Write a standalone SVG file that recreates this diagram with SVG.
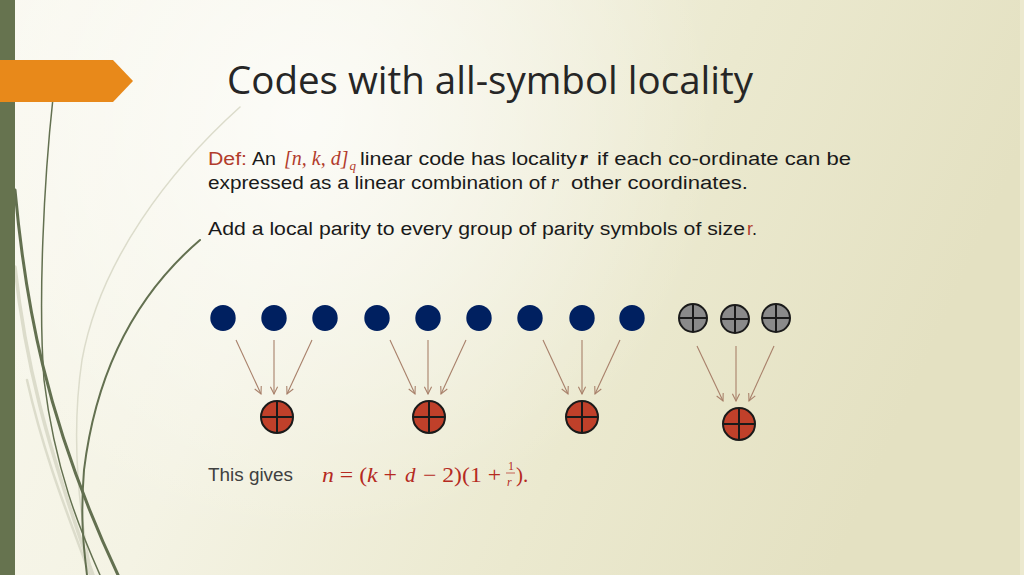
<svg xmlns="http://www.w3.org/2000/svg" width="1024" height="575" viewBox="0 0 1024 575">
<defs>
<linearGradient id="bg" x1="0" y1="0" x2="1" y2="0.25">
<stop offset="0" stop-color="#f9f8ef"/>
<stop offset="0.35" stop-color="#f4f3e4"/>
<stop offset="0.7" stop-color="#ebe9cf"/>
<stop offset="1" stop-color="#e4e1c2"/>
</linearGradient>
<radialGradient id="glow" cx="300" cy="120" r="420" gradientUnits="userSpaceOnUse">
<stop offset="0" stop-color="#ffffff" stop-opacity="0.7"/>
<stop offset="1" stop-color="#ffffff" stop-opacity="0"/>
</radialGradient>
<marker id="ah" viewBox="0 0 10 10" refX="9" refY="5" markerWidth="9" markerHeight="9" markerUnits="userSpaceOnUse" orient="auto">
<path d="M1,1 L9,5 L1,9" fill="none" stroke="#a8806a" stroke-width="1.2"/>
</marker>
</defs>
<style>
.t{font-family:"Liberation Sans","DejaVu Sans",sans-serif;font-size:18px;fill:#1a1a1a}
.red{fill:#b23c2c}
.m{font-family:"Liberation Serif","DejaVu Serif",serif;font-style:italic;font-size:20px}
.blue{fill:#002060}
.grey{fill:#8a8a8a;stroke:#1a1a1a;stroke-width:2}
.par{fill:#c0402a;stroke:#1a1a1a;stroke-width:2}
.x{stroke:#1a1a1a;stroke-width:2}
.arr{stroke:#a8806a;stroke-width:1.1;fill:none;marker-end:url(#ah)}
.stem{fill:none;stroke:#637050;stroke-linecap:round}
.pale{fill:none;stroke:#dcdccb;stroke-linecap:round}
.f{font-family:"Liberation Serif","DejaVu Serif",serif;font-size:21px;fill:#b52a1f}
.s{font-family:"Liberation Serif","DejaVu Serif",serif;font-size:12px;fill:#b52a1f}
</style>
<rect width="1024" height="575" fill="url(#bg)"/>
<rect width="1024" height="575" fill="url(#glow)"/>
<rect x="1020" y="0" width="4" height="575" fill="#ece9cf"/>
<g id="decor">
<path class="pale" stroke-width="1.5" d="M240,107 C170,170 100,260 82,360 C70,440 80,520 92,575"/>
<path class="pale" stroke-width="3.5" d="M15,267 C25,360 45,440 93,575"/>
<path class="pale" stroke-width="2.5" d="M27,380 C45,460 70,520 90,575"/>
<path class="stem" stroke-width="1.5" d="M53,98 C44,180 38,300 44,380 C55,470 80,530 100,575"/>
<path class="stem" stroke-width="3" d="M15,190 C25,300 45,420 118,575"/>
<path class="stem" stroke-width="2" d="M200,240 C130,300 95,380 84,470 C80,520 84,550 87,575"/>
<rect x="0" y="0" width="15" height="575" fill="#66734f"/>
<polygon points="0,60 113,60 133,81 113,102 0,102" fill="#e8891a"/>
</g>
<g id="title">
<text x="227" y="94" font-family="'Open Sans','Noto Sans',sans-serif" font-size="38" fill="#262626" textLength="526" lengthAdjust="spacingAndGlyphs">Codes with all-symbol locality</text>
</g>
<g id="definition">
<text class="t red" x="208" y="165" textLength="39" lengthAdjust="spacingAndGlyphs">Def:</text>
<text class="t" x="252" y="165" textLength="24" lengthAdjust="spacingAndGlyphs">An</text>
<text class="t red m" x="284" y="165">[n, k, d]<tspan style="font-size:13px" dx="1" dy="5">q</tspan></text>
<text class="t m" x="580" y="165" font-weight="bold">r</text>
<text class="t" x="360" y="165" textLength="217" lengthAdjust="spacingAndGlyphs">linear code has locality</text>
<text class="t" x="597" y="165" textLength="254" lengthAdjust="spacingAndGlyphs">if each co-ordinate can be</text>
<text class="t" x="208" y="189" textLength="338" lengthAdjust="spacingAndGlyphs">expressed as a linear combination of</text>
<text class="t m" x="551" y="189">r</text>
<text class="t" x="571" y="189" textLength="177" lengthAdjust="spacingAndGlyphs">other  coordinates.</text>
<text class="t" x="208" y="235" textLength="537" lengthAdjust="spacingAndGlyphs">Add a local parity to every group of parity symbols of size</text>
<text class="t" x="747" y="235"><tspan class="red">r</tspan>.</text>
</g>
<g id="data-symbols">
<ellipse class="blue" cx="223" cy="318" rx="12.7" ry="13"/>
<ellipse class="blue" cx="274" cy="318" rx="12.7" ry="13"/>
<ellipse class="blue" cx="325" cy="318" rx="12.7" ry="13"/>
<ellipse class="blue" cx="377" cy="318" rx="12.7" ry="13"/>
<ellipse class="blue" cx="428" cy="318" rx="12.7" ry="13"/>
<ellipse class="blue" cx="479" cy="318" rx="12.7" ry="13"/>
<ellipse class="blue" cx="530" cy="318" rx="12.7" ry="13"/>
<ellipse class="blue" cx="582" cy="318" rx="12.7" ry="13"/>
<ellipse class="blue" cx="632" cy="318" rx="12.7" ry="13"/>
</g>
<g id="parity-symbols">
<circle class="grey" cx="693" cy="318" r="14"/><path class="x" d="M679,318 H707 M693,304 V332"/>
<circle class="grey" cx="735" cy="319" r="14"/><path class="x" d="M721,319 H749 M735,305 V333"/>
<circle class="grey" cx="776" cy="318" r="14"/><path class="x" d="M762,318 H790 M776,304 V332"/>
</g>
<g id="local-parity-1"><circle class="par" cx="277" cy="417" r="16"/><path class="x" d="M261,417 H293 M277,401 V433"/></g>
<g id="local-parity-2"><circle class="par" cx="429" cy="417" r="16"/><path class="x" d="M413,417 H445 M429,401 V433"/></g>
<g id="local-parity-3"><circle class="par" cx="582" cy="417" r="16"/><path class="x" d="M566,417 H598 M582,401 V433"/></g>
<g id="local-parity-4"><circle class="par" cx="739" cy="424" r="16"/><path class="x" d="M723,424 H755 M739,408 V440"/></g>
<g id="connectors">
<line class="arr" x1="236" y1="340" x2="261" y2="394"/>
<line class="arr" x1="274" y1="340" x2="274" y2="394"/>
<line class="arr" x1="312" y1="340" x2="287" y2="394"/>
<line class="arr" x1="390" y1="340" x2="415" y2="394"/>
<line class="arr" x1="428" y1="340" x2="428" y2="394"/>
<line class="arr" x1="466" y1="340" x2="441" y2="394"/>
<line class="arr" x1="543" y1="340" x2="568" y2="394"/>
<line class="arr" x1="582" y1="340" x2="582" y2="394"/>
<line class="arr" x1="620" y1="340" x2="595" y2="394"/>
<line class="arr" x1="697" y1="346" x2="723" y2="401"/>
<line class="arr" x1="736" y1="346" x2="736" y2="401"/>
<line class="arr" x1="774" y1="346" x2="749" y2="401"/>
</g>
<g id="result">
<text class="t" x="208" y="481" style="fill:#404040" textLength="85" lengthAdjust="spacingAndGlyphs">This gives</text>
<text class="f" x="322" y="482" textLength="75" lengthAdjust="spacingAndGlyphs"><tspan font-style="italic">n</tspan> = (<tspan font-style="italic">k</tspan> +</text>
<text class="f" x="405" y="482" font-style="italic">d</text>
<text class="f" x="423" y="482" textLength="78" lengthAdjust="spacingAndGlyphs">− 2)(1 +</text>
<text class="s" x="508" y="470">1</text>
<line x1="506" y1="473" x2="515" y2="473" stroke="#b52a1f" stroke-width="0.7"/>
<text class="s" x="507" y="486" font-style="italic">r</text>
<text class="f" x="516" y="482">).</text>
</g>
</svg>
